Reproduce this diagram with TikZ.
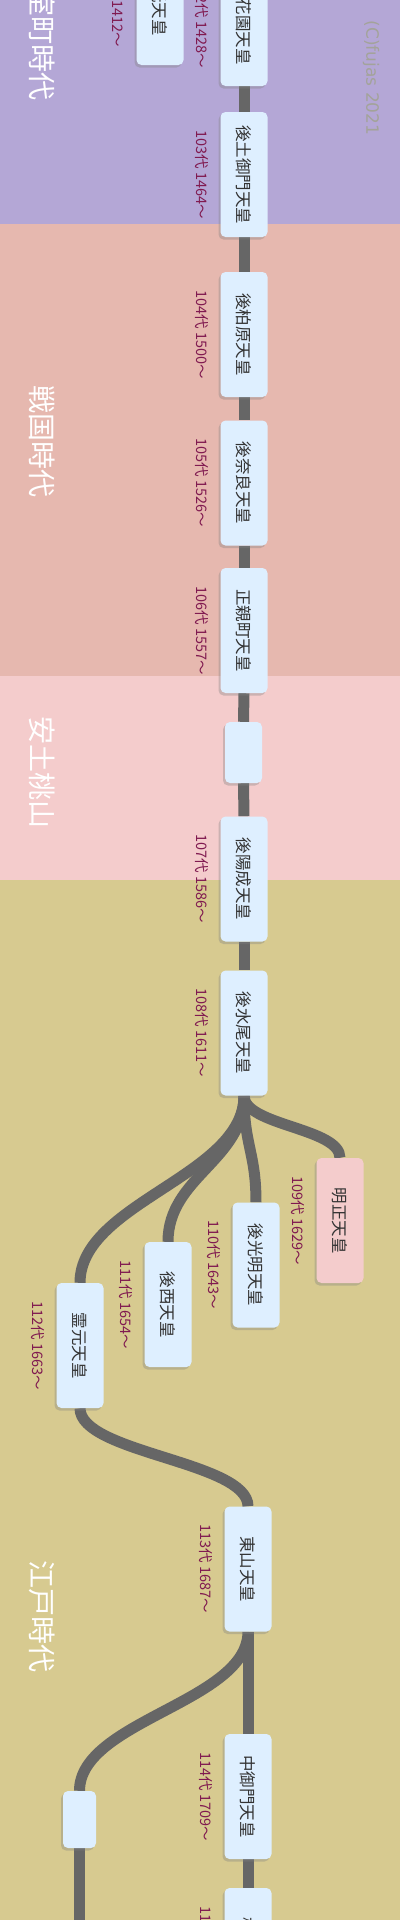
\documentclass[tikz,border=0pt]{standalone}
\usepackage{fontspec}
\usepackage{graphicx}
\setmainfont{Noto Sans CJK JP}
\newfontfamily\signfont{DejaVu Sans}
\usetikzlibrary{backgrounds,shadows}
\definecolor{erapurple}{HTML}{B4A7D6}
\definecolor{erasalmon}{HTML}{E6B8AF}
\definecolor{erapink}{HTML}{F4CCCC}
\definecolor{erakhaki}{HTML}{D7CA90}
\definecolor{tennofill}{HTML}{DEEFFF}
\definecolor{tennoink}{HTML}{333333}
\definecolor{reignink}{HTML}{801A50}
\definecolor{linkgray}{HTML}{666666}
\definecolor{signgray}{HTML}{A3A39A}
\newcommand{\tatebox}[1]{\rotatebox[origin=c]{-90}{#1}}
\tikzset{
  tenno/.style={fill=tennofill, rounded corners=5pt, inner sep=0pt,
    minimum width=47pt, minimum height=125pt,
    font=\fontsize{16.5}{16.5}\selectfont, text=tennoink,
    drop shadow={shadow xshift=-2pt, shadow yshift=-2.5pt, opacity=.35}},
  reign/.style={rotate=-90, inner sep=0pt,
    font=\fontsize{14.5}{14.5}\selectfont, text=reignink},
  era/.style={rotate=-90, inner sep=0pt,
    font=\fontsize{28}{28}\selectfont, text=white},
  signature/.style={rotate=-90, inner sep=0pt,
    font=\signfont\fontsize{17}{17}\selectfont, text=signgray},
  link/.style={draw=linkgray, line width=11pt}
}

\begin{document}
\begin{tikzpicture}[x=1pt,y=-1pt]
  % Emperors 101-115, Muromachi to Edo; page is the graph turned clockwise.
  \useasboundingbox (0,0) rectangle (400,1920);
  \begin{scope}[on background layer]
    \foreach \c/\t/\b in {erapurple/0/224, erasalmon/224/676,
        erapink/676/880, erakhaki/880/1920} {
      \fill[\c] (0,\t) rectangle (400,\b);
    }
  \end{scope}

  \node[era] at (42,44) {室町時代};
  \node[era] at (42,441) {戦国時代};
  \node[era] at (42,772) {安土桃山};
  \node[era] at (42,1616) {江戸時代};
  \node[signature] at (371,78) {(C)fujas 2021};

  \foreach \id/\x/\y/\name/\when in {
    101/160/2.5/{称光天皇}/{101代 1412〜},
    102/244/23.5/{後花園天皇}/{102代 1428〜},
    103/244/174.5/{後土御門天皇}/{103代 1464〜},
    104/244/334.5/{後柏原天皇}/{104代 1500〜},
    105/244/483/{後奈良天皇}/{105代 1526〜},
    106/244/630.5/{正親町天皇}/{106代 1557〜},
    107/244/879/{後陽成天皇}/{107代 1586〜},
    108/244/1033/{後水尾天皇}/{108代 1611〜},
    110/256/1265/{後光明天皇}/{110代 1643〜},
    111/168/1304.5/{後西天皇}/{111代 1654〜},
    112/80/1345.5/{霊元天皇}/{112代 1663〜},
    113/248/1569/{東山天皇}/{113代 1687〜},
    114/248/1796.5/{中御門天皇}/{114代 1709〜},
    115/248/1950.5/{桜町天皇}/{115代 1735〜}
  } {
    \node[tenno] (n\id) at (\x,\y) {\tatebox{\name}};
    \node[reign] at ([xshift=-18pt]n\id.west) {\when};
  }
  \node[tenno, fill=erapink] (n109) at (340,1220.5) {\tatebox{明正天皇}};
  \node[reign] at ([xshift=-18pt]n109.west) {109代 1629〜};
  \node[tenno, minimum width=37pt, minimum height=61pt] (azuchi) at (243.5,752.5) {};
  \node[tenno, minimum width=33pt, minimum height=57pt] (edoside) at (79.5,1819.5) {};
  \coordinate (offpage) at (79.5,1930);

  \begin{scope}[on background layer]
    \foreach \a/\b in {n102/n103, n103/n104, n104/n105, n105/n106,
        n106/azuchi, azuchi/n107, n107/n108, n113/n114, n114/n115} {
      \draw[link] (\a.south) -- (\b.north);
    }
    \foreach \a/\b/\c in {n108/n109/30, n108/n110/50, n108/n111/65,
        n108/n112/80, n112/n113/45, n113/edoside/70} {
      \draw[link] (\a.south) .. controls +(0,\c) and +(0,-\c) .. (\b.north);
    }
    \draw[link] (edoside.south) -- (offpage);
  \end{scope}
\end{tikzpicture}
\end{document}
